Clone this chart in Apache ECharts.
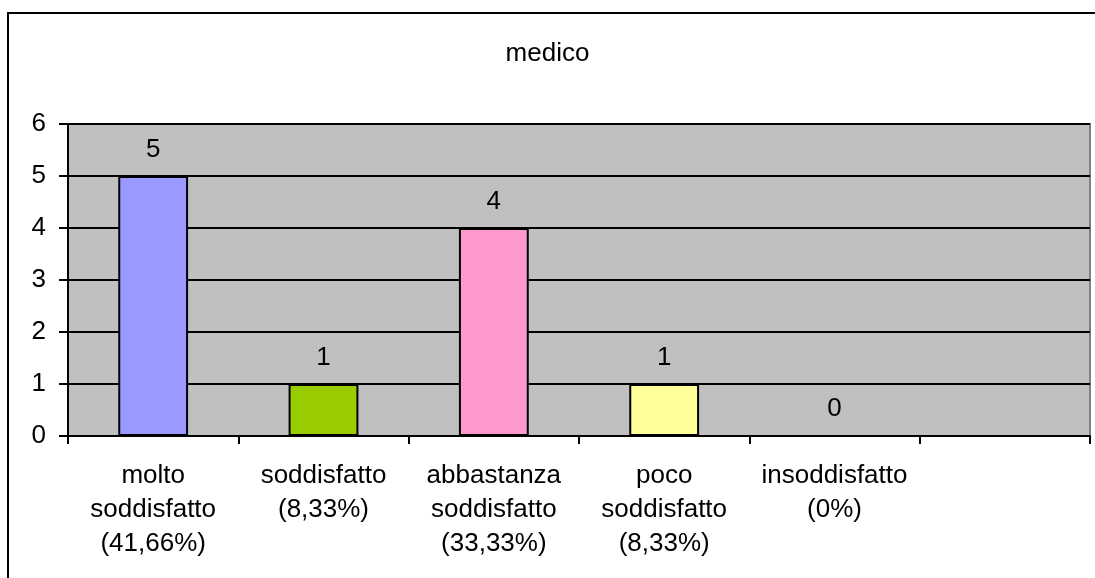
<!DOCTYPE html>
<html>
<head>
<meta charset="utf-8">
<script src="https://cdn.jsdelivr.net/npm/echarts@6/dist/echarts.min.js"></script>
<style>
  html, body {margin: 0; padding: 0; background: #fff;}
  #chart {width: 1095px; height: 578px;}
</style>
</head>
<body>
<div id="chart"></div>
<script>
// categorie (l'ultima colonna è vuota, come nell'originale)
const categories = [
    'molto\nsoddisfatto\n(41,66%)',
    'soddisfatto\n(8,33%)',
    'abbastanza\nsoddisfatto\n(33,33%)',
    'poco\nsoddisfatto\n(8,33%)',
    'insoddisfatto\n(0%)',
    ''
];
const values = [5, 1, 4, 1, 0];
const barColors = ['#9999FF', '#99CC00', '#FF99CC', '#FFFF99', '#CCFFFF'];
const yTicks = [0, 1, 2, 3, 4, 5, 6];

const font = 'Liberation Sans, Arial, sans-serif';

const myChart = echarts.init(document.getElementById('chart'));

const option = {
    backgroundColor: '#fff',
    animation: false,
    title: {
        text: 'medico',
        left: 'center',
        top: 36,
        textStyle: {
            fontFamily: font,
            fontSize: 26,
            fontWeight: 'normal',
            color: '#000',
        },
    },
    graphic: [{
        type: 'rect',
        shape: {x: 8, y: 13, width: 1200, height: 700},
        style: {fill: 'none', stroke: '#000', lineWidth: 2},
        silent: true,
        z: -1,
    }],
    grid: {
        left: 68,
        right: 5,
        top: 124,
        bottom: 142,
        show: true,
        backgroundColor: '#C0C0C0',
        borderColor: '#808080',
        borderWidth: 2,
    },
    xAxis: {
        type: 'category',
        data: categories,
        boundaryGap: true,
        axisLine: {lineStyle: {color: '#000', width: 2}},
        axisTick: {show: true, length: 8, interval: 0, lineStyle: {color: '#000', width: 2}},
        axisLabel: {
            interval: 0,
            margin: 23,
            fontFamily: font,
            fontSize: 26,
            lineHeight: 34,
            color: '#000',
        },
        splitLine: {show: false},
    },
    yAxis: {
        type: 'value',
        min: yTicks[0],
        max: yTicks[yTicks.length - 1],
        interval: 1,
        axisLine: {show: true, lineStyle: {color: '#000', width: 2}},
        axisTick: {show: true, length: 9, lineStyle: {color: '#000', width: 2}},
        axisLabel: {
            margin: 22,
            fontFamily: font,
            fontSize: 26,
            color: '#000',
        },
        splitLine: {show: true, lineStyle: {color: '#000', width: 2}},
    },
    series: [{
        type: 'bar',
        barWidth: '41%',
        data: values.map((v, i) => ({
            value: v,
            itemStyle: {color: barColors[i], borderColor: '#000', borderWidth: 2},
        })),
        label: {
            show: true,
            position: 'top',
            distance: 13,
            fontFamily: font,
            fontSize: 26,
            color: '#000',
        },
    }],
};
myChart.setOption(option);
</script>
</body>
</html>
